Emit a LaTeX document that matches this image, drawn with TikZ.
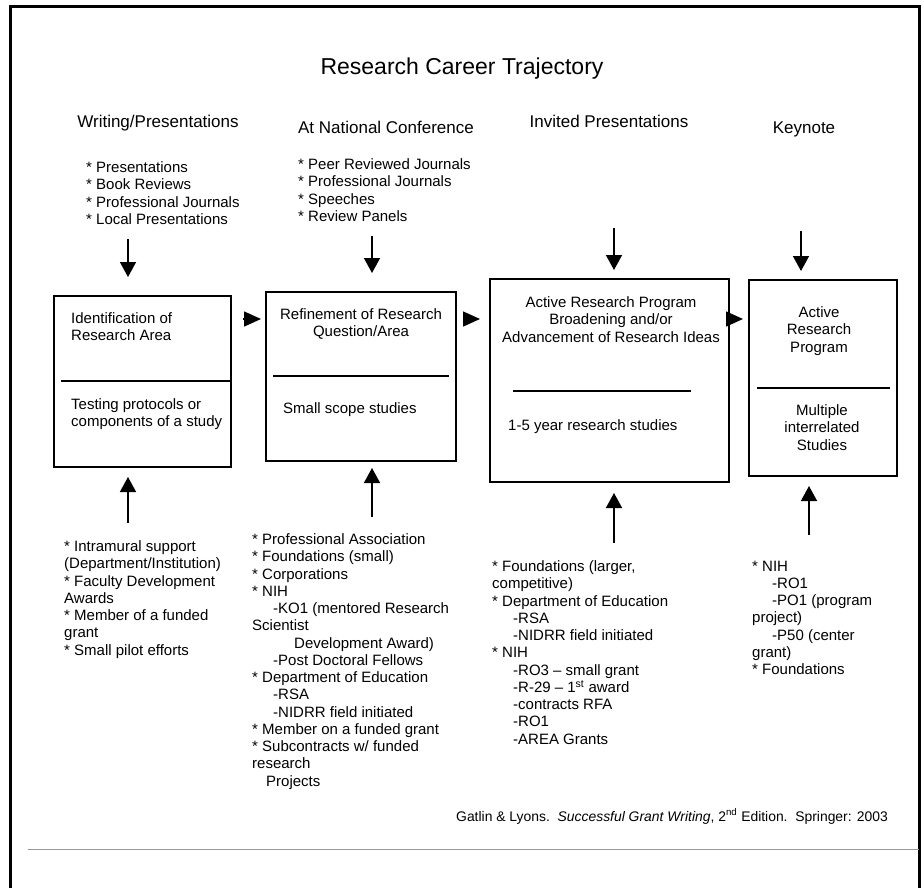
\documentclass[tikz,border=0pt]{standalone}
\usepackage{fontspec}
\setmainfont{Liberation Sans}
\usetikzlibrary{arrows.meta}

\begin{document}
\begin{tikzpicture}[x=1pt,y=-1pt,
    box/.style={draw,line width=1.4pt,anchor=north west,inner sep=0pt,outer sep=0pt},
    txt/.style={inner sep=0pt,align=left,anchor=north west,
      font=\fontsize{15}{17.25}\selectfont,execute at begin node=\strut},
    mid/.style={txt,align=center,anchor=north},
    head/.style={inner sep=0pt,anchor=base,font=\fontsize{17}{20}\selectfont},
    arr/.style={-{Triangle[length=15pt,width=16pt]},line width=1.5pt},
    tip/.style={-{Triangle[length=17pt,width=15pt]},line width=1.5pt}]
  \useasboundingbox (0,0) rectangle (924,888);
  % frame
  \draw[line width=3pt] (10.5,888) -- (10.5,6.5) -- (919.5,6.5) -- (919.5,888);
  \draw[gray!80,line width=1pt] (28,849) -- (919,849);

  \node[head,font=\fontsize{23}{26}\selectfont] (title) at (462,75) {Research Career Trajectory};
  \node[head] (h1) at (158,128) {Writing/Presentations};
  \node[head] (h2) at (386,134) {At National Conference};
  \node[head] (h3) at (609,128) {Invited Presentations};
  \node[head] (h4) at (804,134) {Keynote};

  % what you do
  \node[txt] (do1) at (86,161.5) {* Presentations\\* Book Reviews\\* Professional Journals\\* Local Presentations};
  \node[txt] (do2) at (298,158.5) {* Peer Reviewed Journals\\* Professional Journals\\* Speeches\\* Review Panels};

  % stages
  \node[box,minimum width=177pt,minimum height=171pt] (b1) at (54,296) {};
  \node[box,minimum width=190pt,minimum height=169pt] (b2) at (266,292) {};
  \node[box,minimum width=239pt,minimum height=203pt] (b3) at (490,279) {};
  \node[box,minimum width=148pt,minimum height=196pt] (b4) at (749,280) {};
  \draw[line width=1.4pt] (61,381) -- (231,381);
  \draw[line width=1.4pt] (273,376) -- (449,376);
  \draw[line width=1.4pt] (513,391) -- (691,391);
  \draw[line width=1.4pt] (757,388) -- (890,388);

  \node[txt] (b1a) at (71,312.5) {Identification of\\Research Area};
  \node[txt] (b1b) at (71,398.5) {Testing protocols or\\components of a study};
  \node[mid] (b2a) at (361,308.5) {Refinement of Research\\Question/Area};
  \node[txt] (b2b) at (283,401.5) {Small scope studies};
  \node[mid] (b3a) at (611,296.5) {Active Research Program\\Broadening and/or\\Advancement of Research Ideas};
  \node[txt] (b3b) at (508,418.5) {1-5 year research studies};
  \node[mid] (b4a) at (819,306.5) {Active\\Research\\Program};
  \node[mid] (b4b) at (822,404.5) {Multiple\\interrelated\\Studies};

  % funding
  \node[txt] (f1) at (64,540.5) {* Intramural support\\(Department/Institution)\\* Faculty Development\\Awards\\* Member of a funded\\grant\\* Small pilot efforts};
  \node[txt] (f2) at (252,533.5) {* Professional Association\\* Foundations (small)\\* Corporations\\* NIH\\
    \hspace*{21pt}-KO1 (mentored Research\\Scientist\\\hspace*{42pt}Development Award)\\
    \hspace*{21pt}-Post Doctoral Fellows\\* Department of Education\\\hspace*{21pt}-RSA\\
    \hspace*{21pt}-NIDRR field initiated\\* Member on a funded grant\\* Subcontracts w/ funded\\
    research\\\hspace*{14pt}Projects};
  \node[txt] (f3) at (492,560.5) {* Foundations (larger,\\competitive)\\* Department of Education\\
    \hspace*{21pt}-RSA\\\hspace*{21pt}-NIDRR field initiated\\* NIH\\
    \hspace*{21pt}-RO3 -- small grant\\\hspace*{21pt}-R-29 -- 1\textsuperscript{st} award\\
    \hspace*{21pt}-contracts RFA\\\hspace*{21pt}-RO1\\\hspace*{21pt}-AREA Grants};
  \node[txt] (f4) at (752,560.5) {* NIH\\\hspace*{20pt}-RO1\\\hspace*{20pt}-PO1 (program\\project)\\
    \hspace*{20pt}-P50 (center\\grant)\\* Foundations};

  \node[inner sep=0pt,anchor=base west,font=\fontsize{13.9}{16}\selectfont] (cite) at (456,821)
    {Gatlin \& Lyons.~~\textit{Successful Grant Writing}, 2\textsuperscript{nd} Edition.~~Springer: 2003};

  % arrows
  \coordinate (ay) at (0,319);
  \draw[tip,shorten <=12pt,shorten >=5pt] (b1.east |- ay) -- (b2.west |- ay);
  \draw[tip,shorten <=7pt,shorten >=10pt] (b2.east |- ay) -- (b3.west |- ay);
  \draw[tip,shorten <=-3pt,shorten >=6pt] (b3.east |- ay) -- (b4.west |- ay);

  \coordinate (in1) at (128,239);
  \coordinate (in2) at (372,236);
  \coordinate (in3) at (614,228);
  \coordinate (in4) at (801,231);
  \draw[arr,shorten >=19pt] (in1) -- (in1 |- b1.north);
  \draw[arr,shorten >=19pt] (in2) -- (in2 |- b2.north);
  \draw[arr,shorten >=9pt] (in3) -- (in3 |- b3.north);
  \draw[arr,shorten >=9pt] (in4) -- (in4 |- b4.north);

  \coordinate (up1) at (128,523);
  \coordinate (up2) at (372,517);
  \coordinate (up3) at (614,543);
  \coordinate (up4) at (809,535);
  \draw[arr,shorten >=10pt] (up1) -- (up1 |- b1.south);
  \draw[arr,shorten >=7pt] (up2) -- (up2 |- b2.south);
  \draw[arr,shorten >=11pt] (up3) -- (up3 |- b3.south);
  \draw[arr,shorten >=10pt] (up4) -- (up4 |- b4.south);
\end{tikzpicture}
\end{document}
